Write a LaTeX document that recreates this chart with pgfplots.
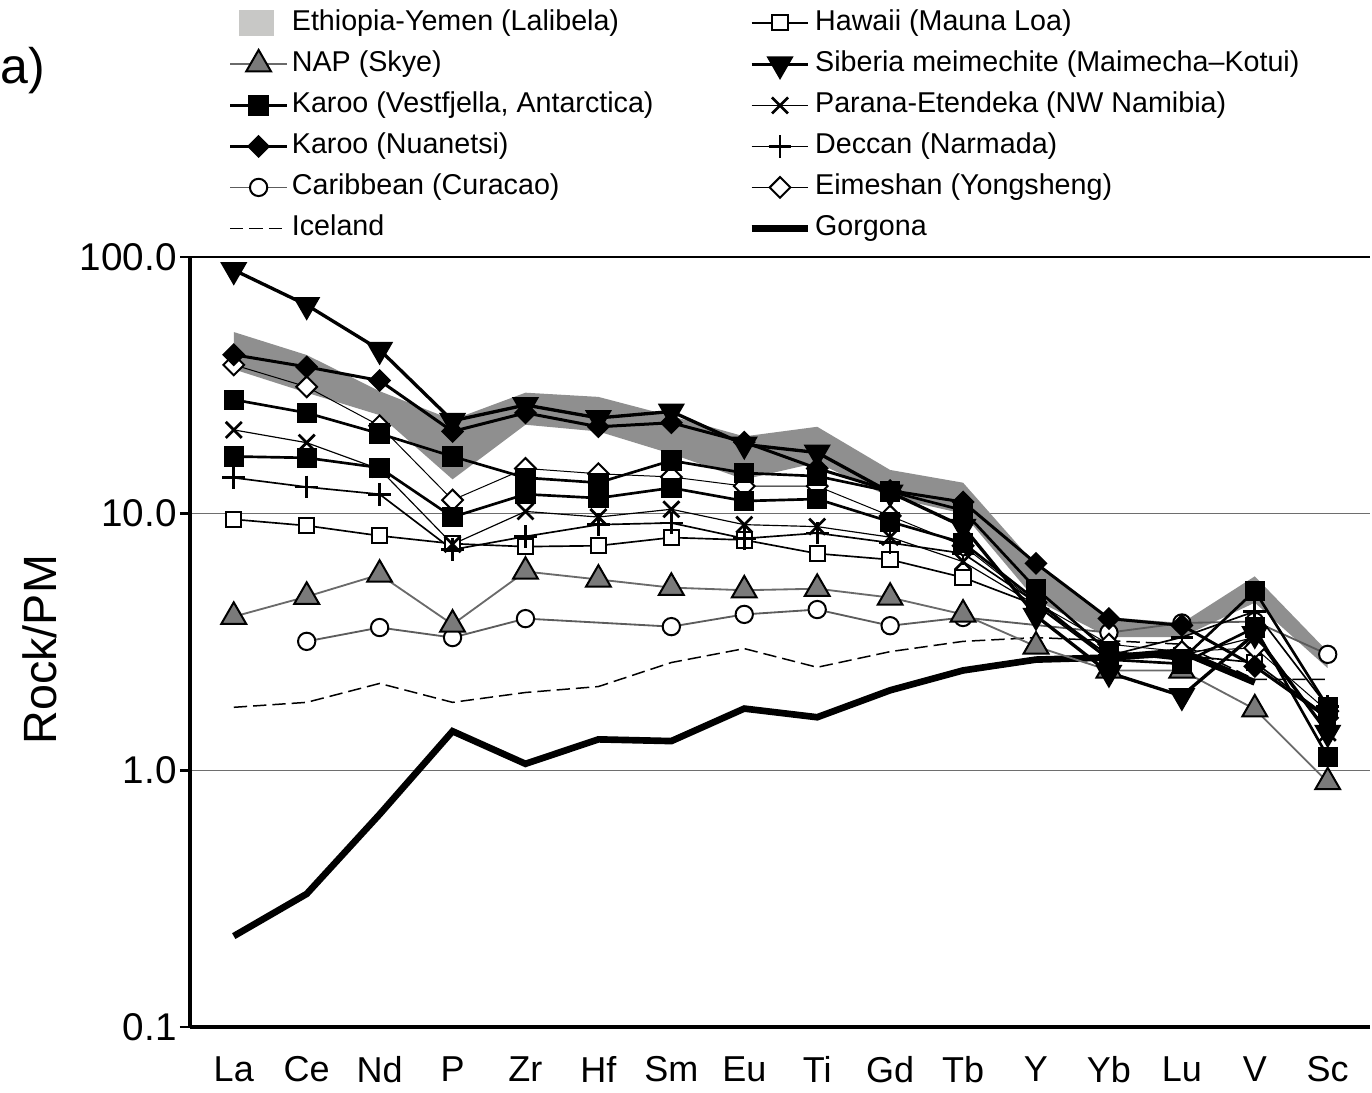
\documentclass[border=0pt]{standalone}
\usepackage{fontspec}
\setmainfont{Liberation Sans}
\usepackage{pgfplots}
\pgfplotsset{compat=1.18}
\usetikzlibrary{plotmarks}

\definecolor{band}{HTML}{8F8F8F}
\definecolor{bandleg}{HTML}{C8C8C6}
\definecolor{napfill}{HTML}{7A7A7A}
\definecolor{napline}{HTML}{6A6A6A}
\definecolor{carline}{HTML}{5C5C5C}
\definecolor{gridc}{HTML}{6E6E6E}

\pgfplotsset{
  sib/.style={black, line width=1pt, mark=triangle*, mark size=4.2pt, mark options={solid, rotate=180, fill=black, line width=0.5pt}},
  nuan/.style={black, line width=0.9pt, mark=square*, mark size=2.2pt, mark options={solid, rotate=45, fill=black, line width=0.5pt}},
  vest/.style={black, line width=0.8pt, mark=square*, mark size=2.8pt, mark options={solid, fill=black, line width=0.5pt}},
  haw/.style={black, line width=0.5pt, mark=square*, mark size=2.3pt, mark options={solid, fill=white, draw=black, line width=0.6pt}},
  nap/.style={napline, line width=0.55pt, mark=triangle*, mark size=4.3pt, mark options={solid, fill=napfill, draw=black, line width=0.6pt}},
  car/.style={carline, line width=0.55pt, mark=*, mark size=2.6pt, mark options={solid, fill=white, draw=black, line width=0.6pt}},
  ice/.style={black, line width=0.45pt, dash pattern=on 4pt off 1.8pt},
  gor/.style={black, line width=2pt},
  par/.style={black, line width=0.35pt, mark=x, mark size=3.4pt, mark options={solid, line width=0.8pt}},
  dec/.style={black, line width=0.5pt, mark=+, mark size=3.4pt, mark options={solid, line width=0.8pt}},
  eim/.style={black, line width=0.3pt, mark=square*, mark size=2.2pt, mark options={solid, rotate=45, fill=white, draw=black, line width=0.6pt}},
}

\begin{document}
\begin{tikzpicture}
\useasboundingbox (-57pt,-19.8pt) rectangle (354.6pt,308.1pt);
\begin{axis}[
  at={(0,0)}, anchor=south west,
  scale only axis, width=354pt, height=231pt,
  ymode=log, ymin=0.1, ymax=100, xmin=-0.6, xmax=15.58,
  xtick={0,...,15},
  xticklabels={La,Ce,Nd,P,Zr,Hf,Sm,Eu,Ti,Gd,Tb,Y,Yb,Lu,V,Sc},
  ytick={0.1,1,10,100}, yticklabels={0.1,1.0,10.0,100.0},
  yminorticks=false,
  axis x line*=bottom, axis y line*=left,
  x axis line style={-, line width=1pt},
  y axis line style={-, line width=1.2pt},
  xtick style={draw=none},
  ytick style={black, line width=0.8pt},
  tick align=outside, major tick length=3pt,
  ymajorgrids, major grid style={gridc, line width=0.45pt},
  /pgf/number format/assume math mode=true,
  xticklabel style={font=\fontsize{10.8}{12}\selectfont, yshift=-2.4pt},
  yticklabel style={font=\fontsize{11.6}{13}\selectfont, xshift=2.5pt},
  ylabel={Rock/PM},
  ylabel style={font=\fontsize{14}{16}\selectfont, at={(axis description cs:-0.127,0.49)}, anchor=center},
  legend columns=2,
  legend cell align=left,
  legend style={at={(axis description cs:0.0322,1.323)}, anchor=north west,
    draw=none, fill=none, inner sep=0pt,
    font=\fontsize{8.6}{10}\selectfont,
    row sep=4pt,
    nodes={inner sep=0pt, text height=6.4pt, text depth=1.9pt},
    /tikz/every odd column/.append style={column sep=1pt},
    /tikz/every even column/.append style={column sep=28.4pt}},
]

% Ethiopia-Yemen (Lalibela) band
\addplot[fill=band, draw=none, forget plot] coordinates {
 (0,51) (1,41.5) (2,30) (3,23.2) (4,29.6) (5,28.5) (6,24) (7,20) (8,21.8) (9,14.8) (10,13.2) (11,6.3) (12,3.95) (13,3.75) (14,5.7) (15,2.9)
 (15,2.5) (14,4.5) (13,3.3) (12,3.3) (11,4.6) (10,10.0) (9,11.6) (8,15.8) (7,13.6) (6,17.1) (5,20.9) (4,22.2) (3,13.6) (2,24.2) (1,29.6) (0,36.5)
} -- cycle;

% Gorgona
\addplot[gor, forget plot] coordinates {
 (0,0.226) (1,0.33) (2,0.674) (3,1.42) (4,1.06) (5,1.32) (6,1.30) (7,1.74) (8,1.61) (9,2.05) (10,2.45) (11,2.70) (12,2.75) (13,2.9) (14,2.2)
};
% Iceland
\addplot[ice, forget plot] coordinates {
 (0,1.76) (1,1.84) (2,2.18) (3,1.84) (4,2.01) (5,2.12) (6,2.63) (7,2.98) (8,2.52) (9,2.90) (10,3.18) (11,3.29) (12,3.2) (13,3.1) (14,2.26) (15,2.26)
};
% Caribbean (Curacao)
\addplot[car, forget plot] coordinates {
 (1,3.18) (2,3.6) (3,3.29) (4,3.9) (6,3.63) (7,4.05) (8,4.23) (9,3.66) (10,3.94) (12,3.44) (13,3.75) (14,3.8) (15,2.83)
};
% NAP (Skye)
\addplot[nap, forget plot] coordinates {
 (0,3.97) (1,4.75) (2,5.79) (3,3.70) (4,5.95) (5,5.54) (6,5.15) (7,5.03) (8,5.1) (9,4.71) (10,4.05) (11,3.04) (12,2.45) (13,2.45) (14,1.73) (15,0.90)
};
% Hawaii (Mauna Loa)
\addplot[haw, forget plot] coordinates {
 (0,9.5) (1,8.98) (2,8.2) (3,7.64) (4,7.44) (5,7.5) (6,8.07) (7,7.9) (8,6.99) (9,6.62) (10,5.64) (11,4.4) (12,2.7) (13,2.8) (14,2.63) (15,1.62)
};
% Deccan (Narmada)
\addplot[dec, forget plot] coordinates {
 (0,13.8) (1,12.7) (2,11.9) (3,7.24) (4,8.15) (5,9.06) (6,9.2) (7,8.0) (8,8.4) (9,7.7) (10,7.0) (11,4.5) (12,2.8) (13,3.3) (14,4.16) (15,1.77)
};
% Parana-Etendeka (NW Namibia)
\addplot[par, forget plot] coordinates {
 (0,21.2) (1,18.9) (2,14.9) (3,7.6) (4,10.2) (5,9.7) (6,10.4) (7,9.06) (8,8.9) (9,8.1) (10,6.5) (11,4.4) (12,2.8) (13,2.8) (14,3.3) (15,1.4)
};
% Eimeshan (Yongsheng)
\addplot[eim, forget plot] coordinates {
 (0,38) (1,31.2) (2,22) (3,11.3) (4,15.0) (5,14.3) (6,13.9) (7,12.8) (8,12.8) (9,9.8) (10,7.5) (11,4.5) (12,3.1) (13,2.9) (14,3.0) (15,1.7)
};
% Karoo (Vestfjella, Antarctica) - two samples
\addplot[vest, forget plot] coordinates {
 (0,27.8) (1,24.7) (2,20.5) (3,16.7) (4,13.8) (5,13.2) (6,16.1) (7,14.4) (8,14.0) (9,12.2) (10,10.3) (11,5.1) (12,2.9) (13,2.7) (14,5.0) (15,1.77)
};
\addplot[vest, forget plot] coordinates {
 (0,16.7) (1,16.5) (2,15.1) (3,9.7) (4,11.9) (5,11.5) (6,12.6) (7,11.2) (8,11.4) (9,9.3) (10,7.7) (11,4.6) (12,2.7) (13,2.6) (14,3.6) (15,1.13)
};
% Karoo (Nuanetsi)
\addplot[nuan, forget plot] coordinates {
 (0,41.6) (1,37.3) (2,33) (3,20.9) (4,24.7) (5,21.8) (6,22.6) (7,19) (8,15) (9,12.3) (10,11.1) (11,6.4) (12,3.9) (13,3.67) (14,2.54) (15,1.6)
};
% Siberia meimechite (Maimecha-Kotui)
\addplot[sib, forget plot] coordinates {
 (0,89) (1,65) (2,43.5) (3,23) (4,26.5) (5,23.6) (6,25) (7,18.6) (8,17.3) (9,12.1) (10,8.9) (11,4.0) (12,2.4) (13,1.95) (14,3.4) (15,1.4)
};

\draw[black, line width=0.7pt] (rel axis cs:0,1) -- (rel axis cs:1,1);

% Legend (column-wise order)
\addlegendimage{legend image code/.code={\fill[bandleg] (0.1cm,-0.13cm) rectangle (0.45cm,0.13cm);}}
\addlegendentry{Ethiopia-Yemen (Lalibela)}
\addlegendimage{haw}
\addlegendentry{Hawaii (Mauna Loa)}
\addlegendimage{nap}
\addlegendentry{NAP (Skye)}
\addlegendimage{sib}
\addlegendentry{Siberia meimechite (Maimecha--Kotui)}
\addlegendimage{vest}
\addlegendentry{Karoo (Vestfjella, Antarctica)}
\addlegendimage{par}
\addlegendentry{Parana-Etendeka (NW Namibia)}
\addlegendimage{nuan}
\addlegendentry{Karoo (Nuanetsi)}
\addlegendimage{dec}
\addlegendentry{Deccan (Narmada)}
\addlegendimage{car}
\addlegendentry{Caribbean (Curacao)}
\addlegendimage{eim}
\addlegendentry{Eimeshan (Yongsheng)}
\addlegendimage{ice}
\addlegendentry{Iceland}
\addlegendimage{gor}
\addlegendentry{Gorgona}
\end{axis}
\node[anchor=west, inner sep=0pt, font=\fontsize{15}{17}\selectfont] at (-57pt,287pt) {a)};
\end{tikzpicture}
\end{document}
